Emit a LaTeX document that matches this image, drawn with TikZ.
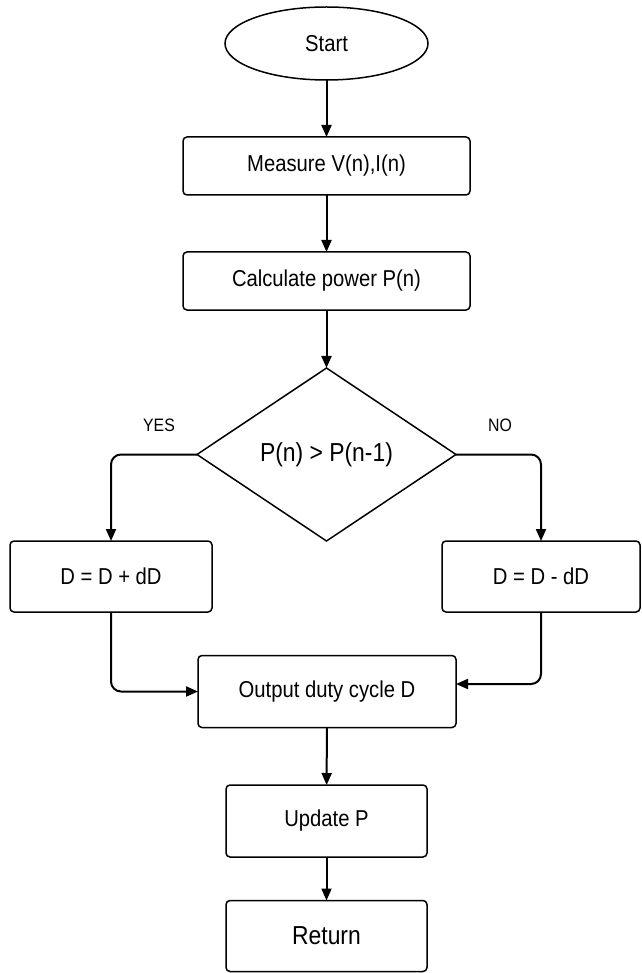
\documentclass[tikz,border=0pt]{standalone}
\usepackage{fontspec}
\setmainfont{Liberation Sans}[FakeStretch=0.88]
\usetikzlibrary{shapes.geometric,arrows.meta}

\newcommand{\flowtext}{\fontsize{23}{27}\selectfont}
\newcommand{\bigflowtext}{\fontsize{26}{30}\selectfont}
\newcommand{\labeltext}{\fontsize{18}{21}\selectfont}

\tikzset{
	process/.style={draw,rectangle,rounded corners=4pt,line width=1.5pt,inner sep=0pt,outer sep=0pt,minimum height=71pt,align=center,font=\flowtext},
	terminal/.style={draw,ellipse,line width=1.5pt,inner sep=0pt,outer sep=0pt,font=\flowtext},
	decision/.style={draw,diamond,line width=1.5pt,inner sep=0pt,outer sep=0pt,font=\bigflowtext},
	flow/.style={line width=2pt,rounded corners=10pt,-{Triangle[length=12pt,width=10pt]}}
}

\begin{document}
\begin{tikzpicture}[x=1pt,y=-1pt]
\useasboundingbox (0,0) rectangle (641,973);

\node (start) at (326.5,43.5) [terminal,minimum width=203pt,minimum height=73pt] {Start};
\node (measure) at (326.5,166) [process,minimum width=287pt,minimum height=58pt] {Measure V(n),I(n)};
\node (calc) at (326.5,281) [process,minimum width=287pt,minimum height=58pt] {Calculate power P(n)};
\node (dec) at (326.5,454.5) [decision,minimum width=259pt,minimum height=173pt] {P(n) > P(n-1)};

\node (yes) at (159,425) [font=\labeltext] {YES};
\node (no) at (500,425) [font=\labeltext] {NO};

\node (plus) at (111,576.5) [process,minimum width=202pt] {D = D + dD};
\node (minus) at (541,576.5) [process,minimum width=198pt] {D = D - dD};
\node (out) at (327,691.5) [process,minimum width=258pt,minimum height=72pt] {Output duty cycle D};
\node (upd) at (326.5,821) [process,minimum width=201pt,minimum height=72pt] {Update P};
\node (ret) at (326.5,936) [process,minimum width=201pt,font=\bigflowtext] {Return};

% main line
\draw[flow] (start) -- (measure);
\draw[flow] (measure) -- (calc);
\draw[flow] (calc) -- (dec);

% branches
\draw[flow] (dec.west) -| (plus.north);
\draw[flow] (dec.east) -| (minus.north);
\draw[flow] (plus.south) |- (out.west);
\draw[flow] (minus.south) |- ([yshift=7.5pt]out.east);

\draw[flow] (out) -- (upd);
\draw[flow] (upd) -- (ret);
\end{tikzpicture}
\end{document}
